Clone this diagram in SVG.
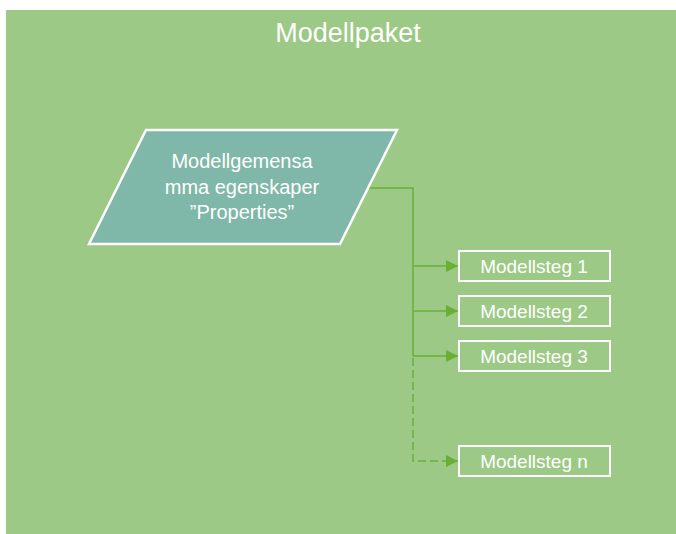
<svg xmlns="http://www.w3.org/2000/svg" width="676" height="534" viewBox="0 0 676 534">
<defs>
<style>
.t{font-family:"Liberation Sans","DejaVu Sans",sans-serif;fill:#ffffff;text-anchor:middle}
.box{fill:none;stroke:#ffffff;stroke-width:2}
.c{fill:none;stroke:#6aaf35;stroke-width:1.5}
</style>
<marker id="ah" viewBox="0 0 12 12" refX="12" refY="6" markerWidth="12" markerHeight="12" markerUnits="userSpaceOnUse" orient="auto">
<path d="M0,0 L12,6 L0,12 Z" fill="#6aaf35"/>
</marker>
</defs>
<rect x="0" y="0" width="676" height="534" fill="#ffffff"/>
<g id="container">
<rect x="6" y="10" width="670" height="524" fill="#9dc986"/>
<text class="t" x="348" y="42" font-size="27">Modellpaket</text>
</g>
<g id="connectors">
<path class="c" d="M368,188 H413 V356"/>
<path class="c" d="M413,266 H458" marker-end="url(#ah)"/>
<path class="c" d="M413,311 H458" marker-end="url(#ah)"/>
<path class="c" d="M413,356 H458" marker-end="url(#ah)"/>
<path class="c" d="M413,358 V461 H458" stroke-dasharray="8 4" marker-end="url(#ah)"/>
</g>
<g id="properties">
<polygon points="146,130 397,130 340,244 89,244" fill="#7fb8a8" stroke="#ffffff" stroke-width="2.5"/>
<text class="t" x="242" y="168" font-size="20">Modellgemensa</text>
<text class="t" x="242" y="194" font-size="20">mma egenskaper</text>
<text class="t" x="242" y="219" font-size="20">”Properties”</text>
</g>
<g id="steg1">
<rect class="box" x="459" y="251" width="151" height="30"/>
<text class="t" x="534" y="273" font-size="19">Modellsteg 1</text>
</g>
<g id="steg2">
<rect class="box" x="459" y="296" width="151" height="30"/>
<text class="t" x="534" y="318" font-size="19">Modellsteg 2</text>
</g>
<g id="steg3">
<rect class="box" x="459" y="341" width="151" height="30"/>
<text class="t" x="534" y="363" font-size="19">Modellsteg 3</text>
</g>
<g id="stegn">
<rect class="box" x="459" y="446" width="151" height="30"/>
<text class="t" x="534" y="468" font-size="19">Modellsteg n</text>
</g>
</svg>
